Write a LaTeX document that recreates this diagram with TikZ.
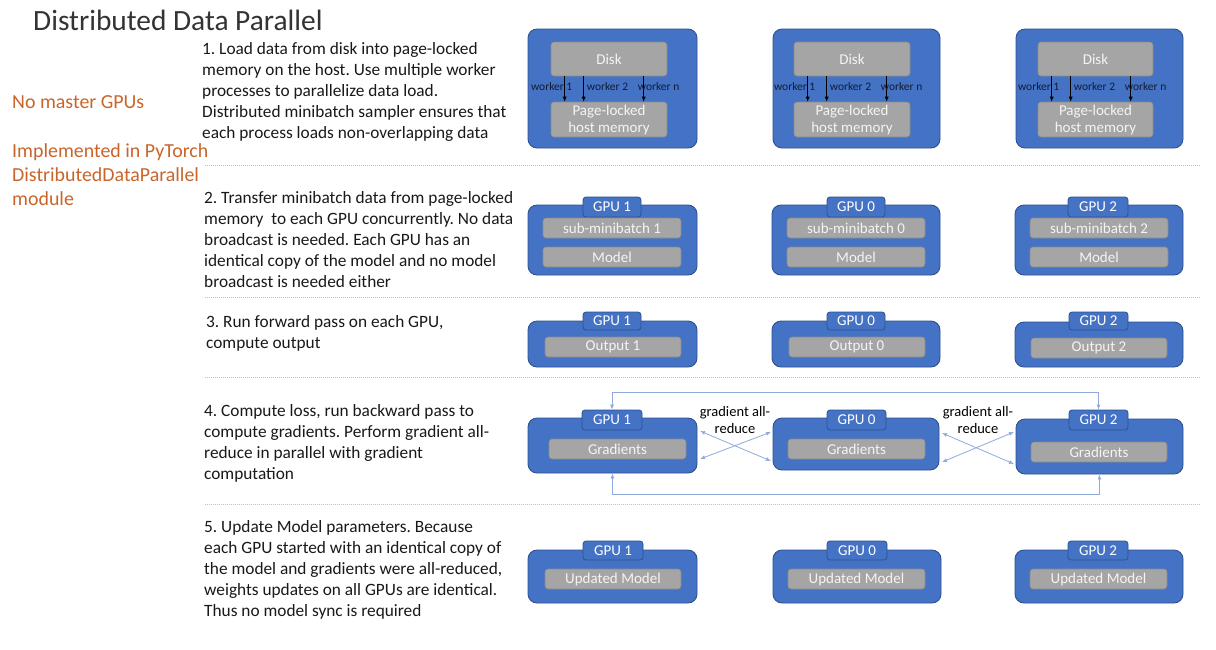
\documentclass[tikz,border=0pt]{standalone}
\usepackage{fontspec}
\setmainfont{Carlito}
\frenchspacing
\usetikzlibrary{arrows.meta,calc}
\definecolor{bblue}{HTML}{4472C4}
\definecolor{bedge}{HTML}{2F528F}
\definecolor{gfill}{HTML}{A5A5A5}
\definecolor{gedge}{HTML}{8A8A8A}
\definecolor{orng}{HTML}{C9652A}
\definecolor{sepc}{HTML}{A9C4E8}
\definecolor{lblue}{HTML}{8FAADC}
\definecolor{wtxt}{HTML}{F4F4F4}
\definecolor{navy}{HTML}{141C33}
\newcommand\mkbox[7]{%
 \pgfmathsetmacro\bxcx{(#3+#5)/2}%
 \pgfmathsetmacro\bxcy{(#4+#6)/2}%
 \pgfmathsetmacro\bxw{#5-#3}%
 \pgfmathsetmacro\bxh{#6-#4}%
 \node[#2,minimum width=\bxw pt,minimum height=\bxh pt] (#1) at (\bxcx,\bxcy) {#7};}
\tikzset{
 outerbox/.style={draw=bedge,fill=bblue,rounded corners=9pt,line width=0.9pt,inner sep=0pt},
 tabbox/.style={draw=bedge,fill=bblue,rounded corners=3pt,line width=0.8pt,text=white,inner sep=0pt,font=\fontsize{15}{17}\selectfont},
 greybox/.style={draw=gedge,fill=gfill,rounded corners=3pt,line width=0.6pt,text=wtxt,inner sep=0pt,align=center,font=\fontsize{15}{17}\selectfont},
 steptext/.style={anchor=north west,inner sep=0pt,align=left,text=black!90,font=\fontsize{17.3}{21}\selectfont},
 orangetext/.style={anchor=base west,inner sep=0pt,text=orng,font=\fontsize{19.9}{24}\selectfont},
 sepline/.style={draw=sepc,line width=0.7pt,dash pattern=on 0.8pt off 1.2pt},
 wlabel/.style={inner sep=0pt,text=navy,font=\fontsize{11.5}{13}\selectfont},
 warr/.style={-{Latex[length=5pt,width=4pt]},line width=0.6pt,draw=black},
 garr/.style={{Latex[length=5pt,width=4pt]}-{Latex[length=5pt,width=4pt]},draw=lblue,line width=0.8pt},
 glabel/.style={anchor=north,inner sep=0pt,align=center,text=black,font=\fontsize{14.5}{17.5}\selectfont}
}
\begin{document}
\begin{tikzpicture}[x=1pt,y=-1pt]
\useasboundingbox[fill=white] (0,0) rectangle (1216,649);
% title and side notes
\node[anchor=base west,inner sep=0pt,text=black!80,font=\fontsize{29.4}{34}\selectfont] (title) at (33,30) {Distributed Data Parallel};
\node[orangetext] (n1) at (12,108) {No master GPUs};
\node[orangetext] (n2) at (12,157) {Implemented in PyTorch};
\node[orangetext] (n3) at (12,181) {DistributedDataParallel};
\node[orangetext] (n4) at (12,205) {module};
% step texts
\node[steptext] (s1) at (202,40) {\rule{0pt}{14pt}1. Load data from disk into page-locked\\memory on the host. Use multiple worker\\processes to parallelize data load.\\Distributed minibatch sampler ensures that\\each process loads non-overlapping data};
\node[steptext] (s2) at (204,189) {\rule{0pt}{14pt}2. Transfer minibatch data from page-locked\\memory\ \ to each GPU concurrently. No data\\broadcast is needed. Each GPU has an\\identical copy of the model and no model\\broadcast is needed either};
\node[steptext] (s3) at (206,313) {\rule{0pt}{14pt}3. Run forward pass on each GPU,\\compute output};
\node[steptext] (s4) at (204,402) {\rule{0pt}{14pt}4. Compute loss, run backward pass to\\compute gradients. Perform gradient all-\\reduce in parallel with gradient\\computation};
\node[steptext] (s5) at (204,518) {\rule{0pt}{14pt}5. Update Model parameters. Because\\each GPU started with an identical copy of\\the model and gradients were all-reduced,\\weights updates on all GPUs are identical.\\Thus no model sync is required};
% separators
\draw[sepline] (205,165) -- (1200,165);
\draw[sepline] (205,297) -- (1200,297);
\draw[sepline] (205,377) -- (1200,377);
\draw[sepline] (205,504) -- (1200,504);
% row 1
\mkbox{o11}{outerbox}{528}{29}{697}{148}{}
\mkbox{d11}{greybox}{551}{42}{667}{76}{Disk}
\mkbox{p11}{greybox}{551}{102}{667}{137}{Page-locked\\host memory}
\mkbox{o12}{outerbox}{773}{29}{940}{148}{}
\mkbox{d12}{greybox}{794}{42}{910}{76}{Disk}
\mkbox{p12}{greybox}{794}{102}{910}{137}{Page-locked\\host memory}
\mkbox{o13}{outerbox}{1016}{29}{1183}{148}{}
\mkbox{d13}{greybox}{1038}{42}{1153}{76}{Disk}
\mkbox{p13}{greybox}{1038}{102}{1153}{137}{Page-locked\\host memory}
\foreach \c in {11,12,13}{
 \foreach \o in {14,33,93}{
  \draw[warr] ([xshift=\o pt]d\c.south west) -- ([xshift=\o pt]p\c.north west);
 }
 \node[wlabel,anchor=base] (wa\c) at ($(d\c.south west)+(1,14)$) {worker 1};
 \node[wlabel,anchor=base west] (wb\c) at ($(d\c.south west)+(36,14)$) {worker 2};
 \node[wlabel,anchor=base west] (wn\c) at ($(d\c.south west)+(87,14)$) {worker n};
}
% row 2
\mkbox{o21}{outerbox}{528}{205}{697}{275}{}
\mkbox{t21}{tabbox}{583}{197}{641}{217}{GPU 1}
\mkbox{s21}{greybox}{543}{218}{681}{238}{sub-minibatch 1}
\mkbox{m21}{greybox}{543}{247}{681}{267}{Model}
\mkbox{o22}{outerbox}{772}{205}{940}{275}{}
\mkbox{t22}{tabbox}{827}{197}{885}{217}{GPU 0}
\mkbox{s22}{greybox}{787}{218}{925}{238}{sub-minibatch 0}
\mkbox{m22}{greybox}{787}{247}{925}{267}{Model}
\mkbox{o23}{outerbox}{1015}{205}{1183}{275}{}
\mkbox{t23}{tabbox}{1068}{197}{1128}{217}{GPU 2}
\mkbox{s23}{greybox}{1030}{218}{1168}{238}{sub-minibatch 2}
\mkbox{m23}{greybox}{1030}{247}{1168}{267}{Model}
% row 3
\mkbox{o31}{outerbox}{528}{321}{697}{367}{}
\mkbox{t31}{tabbox}{583}{312}{641}{330}{GPU 1}
\mkbox{u31}{greybox}{545}{337}{681}{357}{Output 1}
\mkbox{o32}{outerbox}{772}{321}{940}{367}{}
\mkbox{t32}{tabbox}{827}{312}{885}{330}{GPU 0}
\mkbox{u32}{greybox}{789}{337}{925}{357}{Output 0}
\mkbox{o33}{outerbox}{1015}{322}{1183}{367}{}
\mkbox{t33}{tabbox}{1069}{312}{1128}{330}{GPU 2}
\mkbox{u33}{greybox}{1031}{338}{1167}{358}{Output 2}
% row 4
\mkbox{o41}{outerbox}{528}{418}{697}{473}{}
\mkbox{t41}{tabbox}{582}{410}{642}{430}{GPU 1}
\mkbox{g41}{greybox}{549}{439}{686}{459}{Gradients}
\mkbox{o42}{outerbox}{773}{418}{939}{470}{}
\mkbox{t42}{tabbox}{827}{410}{886}{430}{GPU 0}
\mkbox{g42}{greybox}{788}{439}{925}{459}{Gradients}
\mkbox{o43}{outerbox}{1016}{419}{1183}{474}{}
\mkbox{t43}{tabbox}{1069}{410}{1128}{430}{GPU 2}
\mkbox{g43}{greybox}{1031}{442}{1167}{462}{Gradients}
\coordinate (ltop) at (0,392);
\coordinate (lbot) at (0,494);
\draw[garr] (t41.north) -- (t41.north |- ltop) -- (t43.north |- ltop) -- (t43.north);
\draw[garr] (o41.south) -- (o41.south |- lbot) -- (o43.south |- lbot) -- (o43.south);
\coordinate (xa1) at (700,431);
\coordinate (xa2) at (700,459);
\coordinate (xb1) at (771,432);
\coordinate (xb2) at (771,461);
\coordinate (xc1) at (942,433);
\coordinate (xc2) at (942,462);
\coordinate (xd1) at (1014,432);
\coordinate (xd2) at (1014,464);
\draw[garr] (xa1) -- (xb2);
\draw[garr] (xa2) -- (xb1);
\draw[garr] (xc1) -- (xd2);
\draw[garr] (xc2) -- (xd1);
\node[glabel] (gl1) at (735,404) {\rule{0pt}{12pt}gradient all-\\reduce};
\node[glabel] (gl2) at (978,404) {\rule{0pt}{12pt}gradient all-\\reduce};
% row 5
\mkbox{o51}{outerbox}{528}{550}{697}{603}{}
\mkbox{t51}{tabbox}{583}{541}{643}{560}{GPU 1}
\mkbox{um51}{greybox}{545}{569}{681}{589}{Updated Model}
\mkbox{o52}{outerbox}{773}{550}{941}{603}{}
\mkbox{t52}{tabbox}{827}{541}{887}{560}{GPU 0}
\mkbox{um52}{greybox}{788}{569}{925}{589}{Updated Model}
\mkbox{o53}{outerbox}{1015}{550}{1183}{603}{}
\mkbox{t53}{tabbox}{1068}{541}{1128}{560}{GPU 2}
\mkbox{um53}{greybox}{1030}{569}{1167}{589}{Updated Model}
\end{tikzpicture}
\end{document}
